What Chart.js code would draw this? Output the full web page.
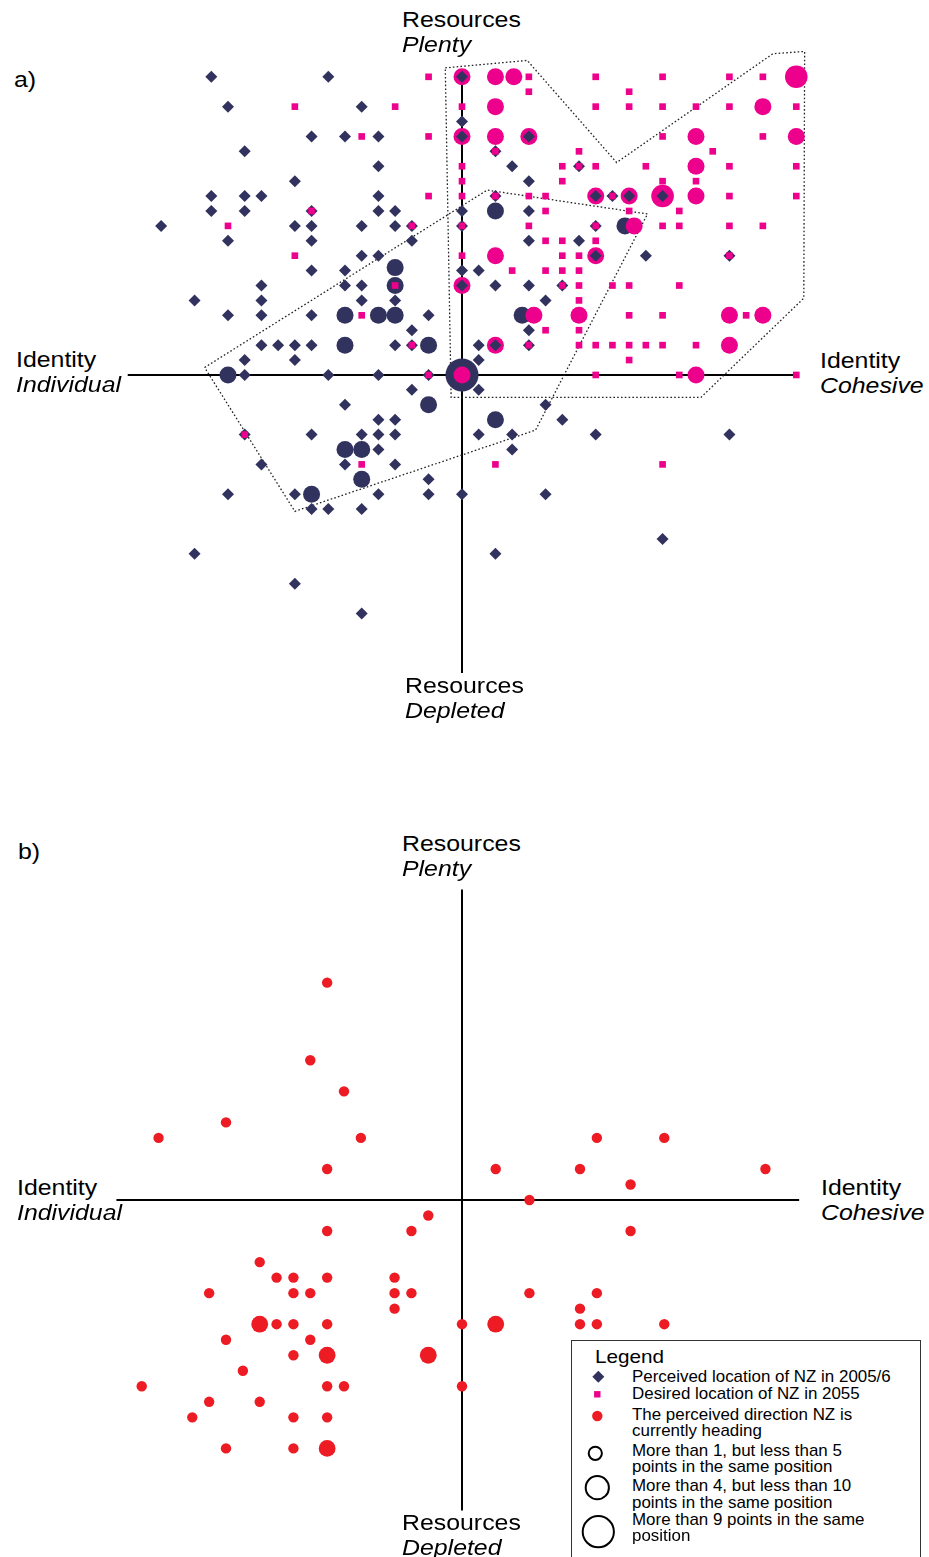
<!DOCTYPE html>
<html>
<head>
<meta charset="utf-8">
<title>Perceived and desired location of NZ</title>
<script src="https://cdn.jsdelivr.net/npm/chart.js@4.4.1/dist/chart.umd.min.js"></script>
<style>
  html, body { margin: 0; padding: 0; background: #fff; }
  body {
    position: relative; width: 929px; height: 1557px; overflow: hidden;
    font-family: "Liberation Sans", Arial, Helvetica, sans-serif; color: #000;
  }
  canvas { position: absolute; }
  .lbl { position: absolute; white-space: nowrap; transform-origin: 0 0; }
  .legend-box {
    position: absolute; left: 571px; top: 1340px; width: 350px; height: 260px;
    border: 1px solid #333; box-sizing: border-box; background: #fff;
  }
  #legendIcons { position: absolute; left: 572px; top: 1340px; }
</style>
</head>
<body>
<canvas id="chartA" width="702" height="641" style="left:111px;top:47px;width:702px;height:641px"></canvas>
<canvas id="chartB" width="708" height="652" style="left:108px;top:874px;width:708px;height:652px"></canvas>
<div class="legend-box"></div>
<svg id="legendIcons" width="60" height="217" viewBox="0 0 60 217"></svg>

<script>
// ---------------------------------------------------------------
// Data: x = Identity (Individual -20 ... +20 Cohesive)
//       y = Resources (Depleted -20 ... +20 Plenty)
// ---------------------------------------------------------------

// a) Perceived location of NZ in 2005/6, single responses
const perceived = [
  [-15,20],[-8,20],[0,20],
  [-14,18],[-6,18],
  [0,17],
  [-9,16],[-7,16],[-5,16],[0,16],[4,16],
  [-13,15],[2,15],
  [-5,14],[3,14],[7,14],
  [-10,13],[4,13],
  [-15,12],[-13,12],[-12,12],[-5,12],[2,12],[8,12],[9,12],[10,12],[12,12],
  [-15,11],[-13,11],[-9,11],[-5,11],[-4,11],[0,11],[4,11],
  [-18,10],[-10,10],[-9,10],[-6,10],[-4,10],[-3,10],[0,10],[8,10],
  [-14,9],[-9,9],[-3,9],[4,9],[7,9],
  [-6,8],[-5,8],[8,8],[11,8],[16,8],
  [-9,7],[-7,7],[0,7],[1,7],
  [-12,6],[-7,6],[-6,6],[0,6],[2,6],[4,6],[6,6],
  [-16,5],[-12,5],[-6,5],[-4,5],[5,5],
  [-14,4],[-12,4],[-9,4],[-2,4],
  [-3,3],[4,3],
  [-12,2],[-11,2],[-10,2],[-9,2],[-4,2],[-3,2],[1,2],[2,2],[4,2],
  [-13,1],[-10,1],[1,1],
  [-13,0],[-8,0],[-5,0],[-2,0],
  [-3,-1],[1,-1],
  [-7,-2],[5,-2],
  [-5,-3],[-4,-3],[6,-3],
  [-13,-4],[-9,-4],[-6,-4],[-5,-4],[-4,-4],[1,-4],[3,-4],[8,-4],[16,-4],
  [-5,-5],[3,-5],
  [-12,-6],[-7,-6],[-4,-6],
  [-2,-7],
  [-14,-8],[-10,-8],[-5,-8],[-2,-8],[0,-8],[5,-8],
  [-9,-9],[-8,-9],[-6,-9],
  [12,-11],
  [-16,-12],[2,-12],
  [-10,-14],
  [-6,-16]
];

// a) Desired location of NZ in 2055, single responses
const desired = [
  [-2,20],[4,20],[8,20],[12,20],[16,20],[18,20],
  [4,19],[10,19],
  [-10,18],[-4,18],[0,18],[8,18],[10,18],[12,18],[14,18],[16,18],[20,18],
  [-6,16],[-2,16],[12,16],[18,16],
  [2,15],[7,15],[15,15],
  [0,14],[6,14],[7,14],[8,14],[11,14],[16,14],[20,14],
  [0,13],[6,13],[12,13],[14,13],
  [-2,12],[0,12],[2,12],[4,12],[5,12],[9,12],[16,12],[20,12],
  [-9,11],[5,11],[10,11],[13,11],
  [-14,10],[-3,10],[0,10],[4,10],[8,10],[12,10],[13,10],[16,10],[18,10],
  [5,9],[6,9],[8,9],
  [-10,8],[0,8],[6,8],[7,8],[16,8],
  [3,7],[5,7],[6,7],[7,7],
  [-4,6],[6,6],[7,6],[9,6],[10,6],[13,6],
  [7,5],
  [-6,4],[10,4],[12,4],[17,4],
  [5,3],[7,3],
  [-3,2],[4,2],[7,2],[8,2],[9,2],[10,2],[11,2],[12,2],[14,2],
  [10,1],
  [-2,0],[8,0],[13,0],[20,0],
  [-13,-4],
  [-6,-6],[2,-6],[12,-6]
];

// Positions shared by several respondents: [x, y, countClass]
// countClass 1: more than 1 but less than 5, 2: more than 4 but less than 10, 3: more than 9
const perceivedGroups = [
  [-4,7.2,1],[-4,6,1],[2,11,1],[9.75,10,1],
  [-7,4,1],[-5,4,1],[-4,4,1],[3.6,4,1],
  [-7,2,1],[-2,2,1],
  [-14,0,1],[0,0,3],
  [-2,-2,1],[2,-3,1],
  [-7,-5,1],[-6,-5,1],[-6,-7,1],[-9,-8,1]
];
const desiredGroups = [
  [0,20,1],[2,20,1],[3.1,20,1],[20,20,2],
  [2,18,1],[18,18,1],
  [0,16,1],[2,16,1],[4,16,1],[14,16,1],[20,16,1],
  [14,14,1],
  [8,12,1],[10,12,1],[12,12,2],[14,12,1],
  [10.3,10,1],
  [2,8,1],[8,8,1],
  [0,6,1],
  [4.3,4,1],[7,4,1],[16,4,1],[18,4,1],
  [2,2,1],[16,2,1],
  [0,0,1],[14,0,1]
];

// Dotted outlines around the two clusters (vertex lists)
const desiredHull = [
  [-1.0,20.6],[3.9,21.1],[9.25,14.25],[18.6,21.55],[20.5,21.7],
  [20.45,5.15],[14.3,-1.5],[-0.65,-1.5]
];
const perceivedHull = [
  [-15.4,0.5],[1.5,12.4],[11.1,10.8],[4.4,-3.7],[-10,-9.15]
];

// b) Perceived direction NZ is currently heading: [x, y, countClass]
const heading = [
  [-8,14,0],[-9,9,0],[-7,7,0],[-14,5,0],[-18,4,0],[-6,4,0],[-8,2,0],
  [8,4,0],[12,4,0],[2,2,0],[7,2,0],[18,2,0],[10,1,0],[4,0,0],[10,-2,0],
  [-2,-1,0],[-8,-2,0],[-3,-2,0],[-12,-4,0],
  [-11,-5,0],[-10,-5,0],[-8,-5,0],[-4,-5,0],
  [-15,-6,0],[-10,-6,0],[-9,-6,0],[-4,-6,0],[-3,-6,0],[4,-6,0],[8,-6,0],
  [-4,-7,0],[7,-7,0],
  [-12,-8,1],[-11,-8,0],[-10,-8,0],[-8,-8,0],[0,-8,0],[2,-8,1],[7,-8,0],[8,-8,0],[12,-8,0],
  [-14,-9,0],[-9,-9,0],
  [-10,-10,0],[-8,-10,1],[-2,-10,1],
  [-13,-11,0],
  [-19,-12,0],[-8,-12,0],[-7,-12,0],[0,-12,0],
  [-15,-13,0],[-12,-13,0],
  [-16,-14,0],[-10,-14,0],[-8,-14,0],
  [-14,-16,0],[-10,-16,0],[-8,-16,1]
];

// Text
const axisTitles = {
  top: ['Resources', 'Plenty'],
  bottom: ['Resources', 'Depleted'],
  left: ['Identity', 'Individual'],
  right: ['Identity', 'Cohesive']
};
const panelTags = ['a)', 'b)'];
const legendTitle = 'Legend';
const legendEntries = [
  { icon: 'diamond', lines: ['Perceived location of NZ in 2005/6'] },
  { icon: 'square', lines: ['Desired location of NZ in 2055'] },
  { icon: 'dot', lines: ['The perceived direction NZ is', 'currently heading'] },
  { icon: 'ring1', lines: ['More than 1, but less than 5', 'points in the same position'] },
  { icon: 'ring2', lines: ['More than 4, but less than 10', 'points in the same position'] },
  { icon: 'ring3', lines: ['More than 9 points in the same', 'position'] }
];

// ---------------------------------------------------------------
// Styling
// ---------------------------------------------------------------
const NAVY = '#32325f';
const MAGENTA = '#ec008c';
const RED = '#ed1c24';
const GROUP_RADIUS_A = { 1: 8.5, 2: 11.3, 3: 16.5 };
const GROUP_RADIUS_B = { 0: 5.2, 1: 8.4 };

const toPts = arr => arr.map(([x, y, c]) => ({ x, y, c }));
const closed = arr => toPts(arr.concat([arr[0]]));

function markerSet(data, style, radius, color, order) {
  return {
    data, order, clip: false,
    showLine: false,
    pointStyle: style,
    pointRadius: radius,
    pointBackgroundColor: color,
    pointBorderWidth: 0,
    pointHoverRadius: radius
  };
}
function lineSet(data, order, width, dash) {
  return {
    data, order, clip: false,
    showLine: true,
    borderColor: dash ? '#222' : '#000',
    borderWidth: width,
    borderDash: dash || [],
    pointRadius: 0,
    fill: false,
    tension: 0
  };
}
function axisLines(xSpan, ySpan, order) {
  return [
    lineSet(toPts([[xSpan[0], 0], [xSpan[1], 0]]), order, 2),
    lineSet(toPts([[0, ySpan[0]], [0, ySpan[1]]]), order, 2)
  ];
}
function baseOptions(xr, yr) {
  return {
    responsive: false,
    maintainAspectRatio: false,
    animation: false,
    events: [],
    layout: { padding: 0, autoPadding: false },
    plugins: { legend: { display: false }, tooltip: { enabled: false } },
    scales: {
      x: { type: 'linear', min: xr[0], max: xr[1], display: false },
      y: { type: 'linear', min: yr[0], max: yr[1], display: false }
    }
  };
}

// a) Perceived and desired locations
new Chart(document.getElementById('chartA'), {
  type: 'scatter',
  data: {
    datasets: [
      markerSet(toPts(desired), 'rect', 4.7, MAGENTA, 0),
      markerSet(toPts(perceived), 'rectRot', 6, NAVY, 1),
      markerSet(toPts(desiredGroups), 'circle', ctx => GROUP_RADIUS_A[ctx.raw.c], MAGENTA, 2),
      markerSet(toPts(perceivedGroups), 'circle', ctx => GROUP_RADIUS_A[ctx.raw.c], NAVY, 3),
      lineSet(closed(desiredHull), 4, 1.3, [1.6, 2.2]),
      lineSet(closed(perceivedHull), 4, 1.3, [1.6, 2.2]),
      ...axisLines([-20, 20], [-20, 20], 5)
    ]
  },
  options: baseOptions([-21, 21], [-21, 22])
});

// b) Perceived direction of travel
new Chart(document.getElementById('chartB'), {
  type: 'scatter',
  data: {
    datasets: [
      markerSet(toPts(heading), 'circle', ctx => GROUP_RADIUS_B[ctx.raw.c], RED, 0),
      ...axisLines([-20.5, 20], [-20, 20], 5)
    ]
  },
  options: baseOptions([-21, 21], [-21, 21])
});

// ---------------------------------------------------------------
// Text labels (baseline-positioned HTML text)
// ---------------------------------------------------------------
function addLabel(text, x, baseline, size, opts = {}) {
  const d = document.createElement('div');
  d.className = 'lbl';
  d.textContent = text;
  d.style.fontSize = size + 'px';
  d.style.lineHeight = size + 'px';
  d.style.left = x + 'px';
  d.style.top = (baseline - 0.8465 * size) + 'px';
  if (opts.italic) d.style.fontStyle = 'italic';
  if (opts.stretch) d.style.transform = 'scaleX(' + opts.stretch + ')';
  document.body.appendChild(d);
}

const TITLE_SIZE = 22.3, TITLE_STRETCH = 1.115, TITLE_GAP = 25.5;
function placeAxisTitles(pos) {
  for (const side of Object.keys(pos)) {
    const [x, b] = pos[side];
    addLabel(axisTitles[side][0], x, b, TITLE_SIZE, { stretch: TITLE_STRETCH });
    addLabel(axisTitles[side][1], x, b + TITLE_GAP, TITLE_SIZE, { stretch: TITLE_STRETCH, italic: true });
  }
}
placeAxisTitles({ top: [402, 27.5], bottom: [405, 693.5], left: [16, 367.8], right: [820, 368.8] });
placeAxisTitles({ top: [402, 851.5], bottom: [402, 1530.5], left: [17, 1195.8], right: [821, 1195.8] });
addLabel(panelTags[0], 14, 88, TITLE_SIZE, { stretch: TITLE_STRETCH });
addLabel(panelTags[1], 18, 860, TITLE_SIZE, { stretch: TITLE_STRETCH });

// Legend text
addLabel(legendTitle, 595, 1363.3, 19, { stretch: 1.09 });
const LEGEND_LINE_BASES = [[1383.3], [1400.3], [1421, 1436.7], [1457.3, 1472.7], [1492, 1508.7], [1526, 1542.3]];
legendEntries.forEach((entry, i) => {
  entry.lines.forEach((line, j) => addLabel(line, 632, LEGEND_LINE_BASES[i][j], 16.6, { stretch: 1.02 }));
});

// Legend symbols
const svgNS = 'http://www.w3.org/2000/svg';
const icons = document.getElementById('legendIcons');
function svgEl(tag, attrs) {
  const el = document.createElementNS(svgNS, tag);
  for (const k in attrs) el.setAttribute(k, attrs[k]);
  icons.appendChild(el);
}
const ICON_SPECS = {
  diamond: () => svgEl('polygon', { points: '20.3,36.7 26.3,30.7 32.3,36.7 26.3,42.7', fill: NAVY }),
  square: () => svgEl('rect', { x: 22.1, y: 51.1, width: 6.4, height: 6.4, fill: MAGENTA }),
  dot: () => svgEl('circle', { cx: 25.3, cy: 76, r: 5.2, fill: RED }),
  ring1: () => svgEl('circle', { cx: 23.3, cy: 113.3, r: 6.6, fill: 'none', stroke: '#000', 'stroke-width': 2 }),
  ring2: () => svgEl('circle', { cx: 25.3, cy: 147.7, r: 11.6, fill: 'none', stroke: '#000', 'stroke-width': 2 }),
  ring3: () => svgEl('circle', { cx: 26.3, cy: 191.7, r: 15.6, fill: 'none', stroke: '#000', 'stroke-width': 2 })
};
legendEntries.forEach(e => ICON_SPECS[e.icon]());
</script>
</body>
</html>
